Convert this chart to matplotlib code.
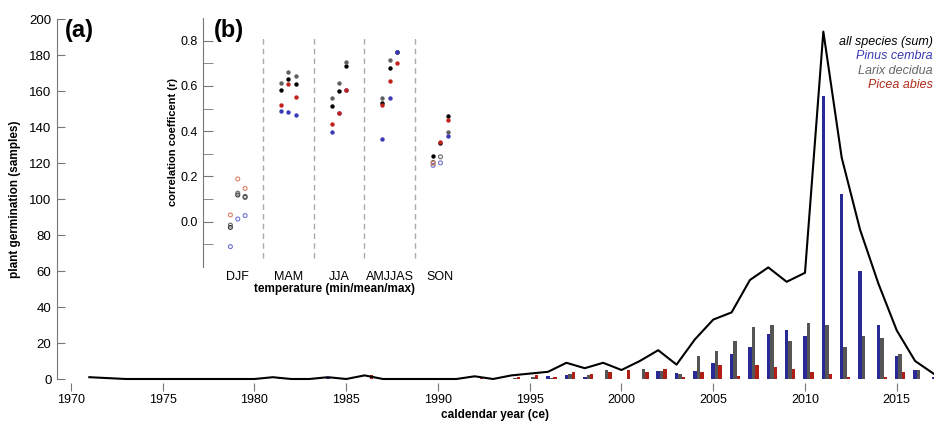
import matplotlib.pyplot as plt
import numpy as np

plt.rcParams['font.family'] = ['Liberation Sans', 'DejaVu Sans']

# germinacao por ano (leitura do grafico)
anos = np.arange(1971, 2018)
soma = [1, 0.5, 0, 0, 0, 0, 0, 0, 0, 0,
        1, 0, 0, 1, 0, 2, 0, 0, 0, 0,
        0, 1.5, 0, 2, 3, 4, 9, 6, 9, 5,
        10, 16, 8, 22, 33, 37, 55, 62, 54, 59,
        193, 123, 83, 53, 27, 10, 3]
pinus = [0, 0, 0, 0, 0, 0, 0, 0, 0, 0,
         0, 0, 0, 1, 0, 0, 0, 0, 0, 0,
         0, 0, 0, 0, 0, 1.5, 2, 1, 0, 0,
         0, 4.5, 3.5, 4.5, 8.8, 14, 18, 25, 27, 24,
         157, 103, 60, 30, 13, 5, 1]
larix = [0, 0, 0, 0, 0, 0, 0, 0, 0, 0,
         0, 0, 0, 0, 0, 0, 0, 0, 0, 0,
         0, 0, 0, 0.5, 1, 0.5, 3, 2, 5, 0,
         5.5, 4.5, 3, 13, 15.7, 21, 29, 30, 21, 31,
         30, 18, 24, 23, 14, 5, 0]
picea = [0, 0, 0, 0, 0, 0, 0, 0, 0, 0,
         1, 0, 0, 0, 0, 2, 0, 0, 0, 0,
         0, 1, 0, 1, 2, 1, 4, 3, 4, 5,
         4, 5.5, 1, 3.7, 7.8, 1.7, 7.8, 6.8, 5.7, 3.7,
         2.8, 1, 0, 1, 3.7, 0, 0]

# correlacao (b): 5 estacoes x (min, mean, max)
estacoes = ['DJF', 'MAM', 'JJA', 'AMJJAS', 'SON']
r_soma = [-0.025, 0.118, 0.108, 0.583, 0.629, 0.608, 0.512, 0.578, 0.69,
          0.523, 0.68, 0.75, 0.289, 0.35, 0.467]
r_larix = [-0.015, 0.126, 0.112, 0.615, 0.66, 0.642, 0.546, 0.612, 0.704,
           0.546, 0.713, 0.752, 0.262, 0.287, 0.396]
r_pinus = [-0.11, 0.012, 0.027, 0.487, 0.483, 0.472, 0.397, 0.48, 0.58,
           0.367, 0.546, 0.749, 0.249, 0.26, 0.377]
r_picea = [0.03, 0.189, 0.147, 0.517, 0.608, 0.552, 0.433, 0.481, 0.581,
           0.514, 0.623, 0.70, 0.258, 0.353, 0.448]
# significativo (ponto cheio) ou nao (ponto aberto)
sig_soma = [0, 0, 0] + [1] * 9 + [1, 1, 1]
sig_larix = [0, 0, 0] + [1] * 9 + [0, 0, 1]
sig_pinus = [0, 0, 0] + [1] * 9 + [0, 0, 1]
sig_picea = [0, 0, 0] + [1] * 9 + [0, 1, 1]

azul = '#2a2a96'
cinza = '#555555'
verm = '#b01e14'

fig = plt.figure(figsize=(9.34, 4.24), dpi=100)
ax = fig.add_axes([57/934, 45/424, 877/934, 360/424])

w = 0.19
ax.bar(anos, pinus, width=w, color=azul, linewidth=0)
ax.bar(anos + w, larix, width=w, color=cinza, linewidth=0)
ax.bar(anos + 2*w, picea, width=w, color=verm, linewidth=0)
ax.plot(anos, soma, color='black', lw=1.5, clip_on=False, zorder=3)

ax.set_xlim(1969.24, 2017.03)
ax.set_ylim(0, 200)
ax.set_xticks(range(1970, 2016, 5))
ax.set_yticks(range(0, 201, 20))
for s in ['top', 'right']:
    ax.spines[s].set_visible(False)
ax.spines['bottom'].set_position(('outward', 3))
ax.spines['bottom'].set_visible(False)
ax.spines['left'].set_color('#777777')
ax.tick_params(axis='y', direction='in', length=6, color='#777777', labelsize=9.5, pad=4)
ax.tick_params(axis='x', direction='out', length=6, color='#777777', labelsize=9, pad=2)
ax.set_ylabel('plant germination (samples)', fontsize=8.5, fontweight='bold', labelpad=6)
ax.patch.set_visible(False)
fig.text(495/934, 1 - 415/424, 'caldendar year (ce)', fontsize=8.5,
         fontweight='bold', ha='center', va='center')

fig.text(65/934, 1 - 30/424, '(a)', fontsize=17, fontweight='bold', va='center')

# legenda em texto
leg = [('all species (sum)', 'black'), ('Pinus cembra', '#3a3ab4'),
       ('Larix decidua', '#666666'), ('Picea abies', '#b02a1a')]
for i, (t, c) in enumerate(leg):
    fig.text(933/934, 1 - (42 + 14.3*i)/424, t, color=c, fontsize=9,
             style='italic', ha='right', va='center')

# inset (b)
ax2 = fig.add_axes([203.3/934, 1 - 267/424, 262.5/934, 249/424])
ax2.patch.set_visible(False)
ax2.set_xlim(-0.68, 4.5)
ax2.set_ylim(-0.2, 0.9)
pos = np.repeat(np.arange(5), 3) + np.tile([-0.145, 0, 0.145], 5)

series = [(r_soma, sig_soma, 'black', '#333333'),
          (r_larix, sig_larix, '#606060', '#666666'),
          (r_pinus, sig_pinus, '#3a3ab8', '#7070d0'),
          (r_picea, sig_picea, '#c4201a', '#d98060')]
for vals, sig, cor, cor_ab in series:
    vals = np.array(vals)
    sig = np.array(sig, dtype=bool)
    ax2.scatter(pos[sig], vals[sig], s=10, color=cor, linewidths=0, zorder=3)
    ax2.scatter(pos[~sig], vals[~sig], s=8, facecolors='none',
                edgecolors=cor_ab, linewidths=0.8, zorder=3)

ax2.vlines(np.arange(4) + 0.5, -0.16, 0.825, colors='#aaaaaa',
           linestyles=(0, (4, 3)), lw=1)
ax2.set_xticks(range(5))
ax2.set_xticklabels(estacoes)
ax2.set_yticks([0.0, 0.2, 0.4, 0.6, 0.8])
ax2.set_yticks([-0.1, 0.1, 0.3, 0.5, 0.7], minor=True)
for s in ['top', 'right', 'bottom']:
    ax2.spines[s].set_visible(False)
ax2.spines['left'].set_color('#777777')
ax2.tick_params(axis='y', which='both', direction='in', length=7, color='#777777',
                labelsize=9, pad=4)
ax2.tick_params(axis='x', length=0, labelsize=9, pad=3)
ax2.set_ylabel('correlation coefficent (r)', fontsize=8, fontweight='bold', labelpad=2)
ax2.set_xlabel('temperature (min/mean/max)', fontsize=8.5, fontweight='bold', labelpad=0)

fig.text(214/934, 1 - 30/424, '(b)', fontsize=17, fontweight='bold', va='center')

plt.savefig('out.png', dpi=100)
